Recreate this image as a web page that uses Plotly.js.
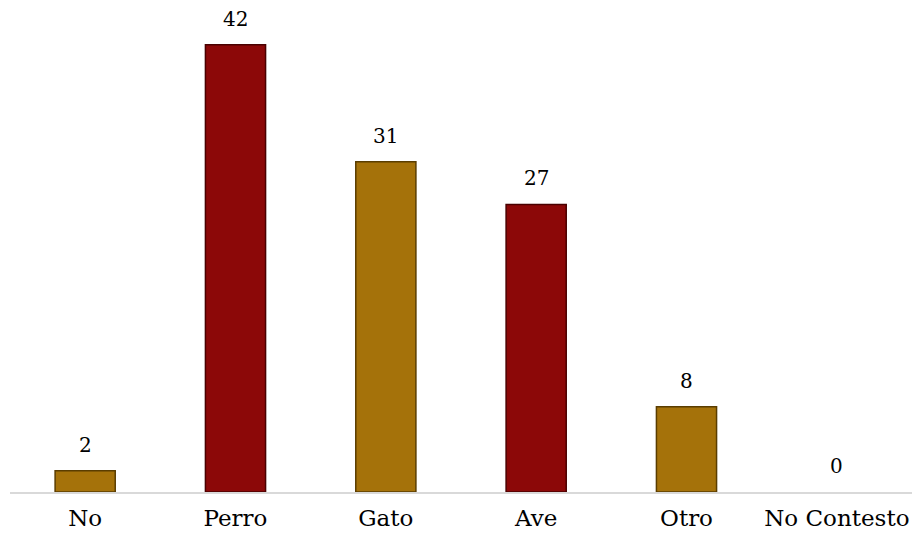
<!DOCTYPE html>
<html>
<head>
<meta charset="utf-8">
<script src="https://cdn.plot.ly/plotly-3.0.1.min.js"></script>
<style>html,body{margin:0;padding:0;background:#fff;}#chart{width:912px;height:541px;}</style>
</head>
<body>
<div id="chart"></div>
<script>
var categories = ["No", "Perro", "Gato", "Ave", "Otro", "No Contesto"];
var values = [2, 42, 31, 27, 8, 0];
var barColors = ["#a5720a", "#8c0808", "#a5720a", "#8c0808", "#a5720a", "#a5720a"];
var edgeColors = ["#5a3d00", "#4a0000", "#5a3d00", "#4a0000", "#5a3d00", "rgba(0,0,0,0)"];

var trace = {
  type: "bar",
  x: categories,
  y: values,
  marker: {color: barColors, line: {color: edgeColors, width: 1.5}},
  width: 0.4,
  hoverinfo: "x+y"
};

var annotations = categories.map(function (c, i) {
  return {
    x: c, y: values[i], xref: "x", yref: "y",
    text: String(values[i]), showarrow: false,
    yanchor: "middle", yshift: 26,
    font: {family: "DejaVu Serif", size: 20, color: "#000"}
  };
});

var layout = {
  width: 912, height: 541,
  margin: {l: 10, r: 0, t: 0, b: 49},
  paper_bgcolor: "#fff", plot_bgcolor: "#fff",
  showlegend: false,
  annotations: annotations,
  xaxis: {
    showgrid: false, zeroline: false, showline: true, linecolor: "#d9d9d9", linewidth: 1.5,
    ticks: "", ticklabelstandoff: 5,
    tickfont: {family: "DejaVu Serif", size: 23, color: "#000"},
    range: [-0.5, 5.5]
  },
  yaxis: {
    range: [0, 46.2], showgrid: false, zeroline: false, showticklabels: false, showline: false
  }
};

Plotly.newPlot("chart", [trace], layout, {displayModeBar: false, staticPlot: true});
</script>
</body>
</html>
